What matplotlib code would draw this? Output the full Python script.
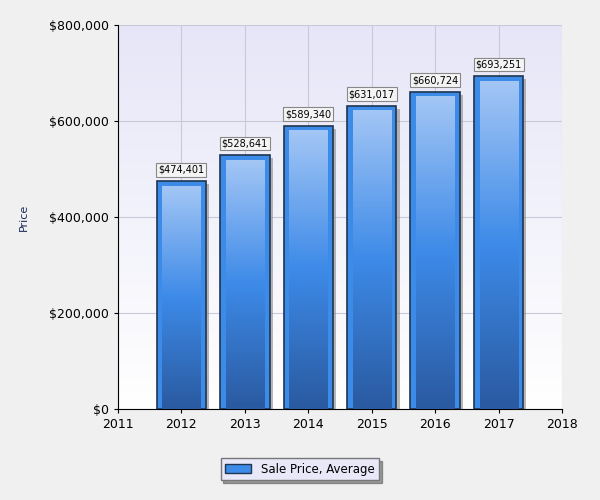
import matplotlib.pyplot as plt
import numpy as np
from matplotlib.colors import LinearSegmentedColormap
from matplotlib.patches import Rectangle

years = [2012, 2013, 2014, 2015, 2016, 2017]
prices = [474401, 528641, 589340, 631017, 660724, 693251]
labels = ["$474,401", "$528,641", "$589,340", "$631,017", "$660,724", "$693,251"]

fig = plt.figure(figsize=(6, 5), dpi=100, facecolor="#f0f0f0")
ax = fig.add_axes([118 / 600, 91 / 500, 444 / 600, 384 / 500])
ax.set_xlim(2011, 2018)
ax.set_ylim(0, 800000)

# background gradient: lavender top -> white bottom
bg = LinearSegmentedColormap.from_list("bg", ["#ffffff", "#e6e6f8"])
ax.imshow(np.linspace(0, 1, 256).reshape(-1, 1), cmap=bg, aspect="auto",
          extent=[2011, 2018, 0, 800000], origin="lower", zorder=0)
ax.grid(True, color="#c8c8d8", linewidth=0.8, zorder=1)

bar_cmap = LinearSegmentedColormap.from_list("bar", ["#2a5aa0", "#3d8ae8", "#a3c6f5"])
w = 0.78
for x, v, lab in zip(years, prices, labels):
    # shadow
    ax.add_patch(Rectangle((x - w / 2 + 0.05, 0), w, v - 6000, facecolor="#888888",
                           edgecolor="none", alpha=0.6, zorder=2))
    ax.add_patch(Rectangle((x - w / 2, 0), w, v, facecolor="#3d8be8",
                           edgecolor="#1f3550", linewidth=1.2, zorder=3))
    ax.imshow(np.linspace(0, 1, 256).reshape(-1, 1), cmap=bar_cmap, aspect="auto",
              extent=[x - w / 2 + 0.09, x + w / 2 - 0.09, 0, v - 10000],
              origin="lower", zorder=4)
    ax.text(x, v + 14000, lab, ha="center", va="bottom", fontsize=7, zorder=5,
            bbox=dict(boxstyle="square,pad=0.2", facecolor="#f4f4f4", edgecolor="#888888", linewidth=0.8))

ax.set_xticks(range(2011, 2019))
ax.set_yticks(np.arange(0, 800001, 200000))
ax.set_yticklabels(["$0", "$200,000", "$400,000", "$600,000", "$800,000"])
ax.tick_params(labelsize=9, length=3)
ax.set_ylabel("Price", fontsize=8, color="#1a2a5a")
ax.yaxis.set_label_coords(-0.2, 0.5)
for s in ["top", "right"]:
    ax.spines[s].set_visible(False)

handle = Rectangle((0, 0), 1, 1, facecolor="#3d8be8", edgecolor="#1f3550")
fig.legend([handle], ["Sale Price, Average"], loc="center", bbox_to_anchor=(300 / 600, 1 - 469 / 500),
           fontsize=8.5, fancybox=False, edgecolor="#777777", facecolor="#e8e8f8", framealpha=1,
           handlelength=2.2, shadow=True)

fig.savefig("out.png", dpi=100, facecolor=fig.get_facecolor())
